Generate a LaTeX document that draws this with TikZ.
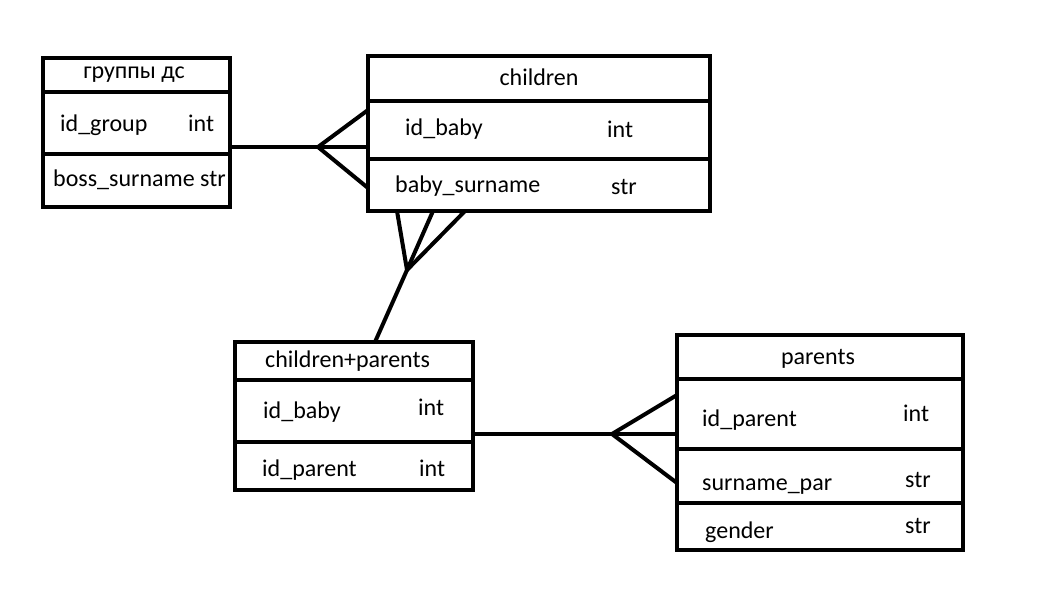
\documentclass[tikz,border=0pt]{standalone}
\usepackage{fontspec}
\setmainfont{Carlito}
\usepackage{tikz}
\usetikzlibrary{positioning,calc}

\begin{document}
\begin{tikzpicture}[
  x=1pt, y=-1pt,
  cell/.style={rectangle, draw=black, line width=4pt, inner sep=0pt},
  txt/.style={font=\fontsize{24}{28}\selectfont, inner sep=0pt, anchor=base west},
  ttl/.style={txt, anchor=base},
  conn/.style={line width=4pt, line join=miter}
]
\useasboundingbox (0,0) rectangle (1047,609);

% группы дс
\node[cell, minimum width=187pt, minimum height=34pt] (grp-head) at (136.5,75) {};
\node[cell, minimum width=187pt, minimum height=62pt] (grp-r1) at (136.5,123) {};
\node[cell, minimum width=187pt, minimum height=53pt] (grp-r2) at (136.5,180.5) {};
\node[ttl] (grp-t)  at (134,79)  {группы дс};
\node[txt] (grp-n1) at (60,132)  {id\_group};
\node[txt] (grp-y1) at (188,132) {int};
\node[txt] (grp-n2) at (53,187)  {boss\_surname str};

% children
\node[cell, minimum width=342pt, minimum height=45pt] (chl-head) at (539,78.5) {};
\node[cell, minimum width=342pt, minimum height=58pt] (chl-r1) at (539,130) {};
\node[cell, minimum width=342pt, minimum height=52pt] (chl-r2) at (539,185) {};
\node[ttl] (chl-t)  at (539,86)  {children};
\node[txt] (chl-n1) at (405,136) {id\_baby};
\node[txt] (chl-y1) at (607,138) {int};
\node[txt] (chl-n2) at (395,193) {baby\_surname};
\node[txt] (chl-y2) at (611,195) {str};

% children+parents
\node[cell, minimum width=238pt, minimum height=38pt] (cp-head) at (354,361) {};
\node[cell, minimum width=238pt, minimum height=62pt] (cp-r1) at (354,411) {};
\node[cell, minimum width=238pt, minimum height=48pt] (cp-r2) at (354,466) {};
\node[txt] (cp-t)  at (265,368) {children+parents};
\node[txt] (cp-n1) at (263,418) {id\_baby};
\node[txt] (cp-y1) at (418,416) {int};
\node[txt] (cp-n2) at (262,476) {id\_parent};
\node[txt] (cp-y2) at (419,476) {int};

% parents
\node[cell, minimum width=286pt, minimum height=44pt] (par-head) at (820,357) {};
\node[cell, minimum width=286pt, minimum height=70pt] (par-r1) at (820,414) {};
\node[cell, minimum width=286pt, minimum height=54pt] (par-r2) at (820,476) {};
\node[cell, minimum width=286pt, minimum height=47pt] (par-r3) at (820,526.5) {};
\node[ttl] (par-t)  at (818,365) {parents};
\node[txt] (par-n1) at (702,427) {id\_parent};
\node[txt] (par-y1) at (903,422) {int};
\node[txt] (par-n2) at (702,490) {surname\_par};
\node[txt] (par-y2) at (905,487) {str};
\node[txt] (par-n3) at (705,538) {gender};
\node[txt] (par-y3) at (905,533) {str};

% crow's feet
\coordinate (foot1) at (318,147);
\coordinate (foot1-up) at (368,110);
\coordinate (foot1-dn) at (368,188);
\coordinate (foot2) at (407,270);
\coordinate (foot2-l) at (397,211);
\coordinate (foot2-m) at (433,211);
\coordinate (foot2-r) at (465,211);
\coordinate (foot2-end) at (375,342);
\coordinate (foot3) at (612,434);
\coordinate (foot3-up) at (677,395);
\coordinate (foot3-dn) at (677,483);

% connectors
\draw[conn] (grp-r1.east |- foot1) -- (chl-r1.west |- foot1);
\draw[conn] (foot1-up) -- (foot1) -- (foot1-dn);
\draw[conn] (foot2-l) -- (foot2) -- (foot2-r);
\draw[conn] (foot2-m) -- (foot2) -- (foot2-end);
\draw[conn] (cp-r1.east |- foot3) -- (par-r1.west |- foot3);
\draw[conn] (foot3-up) -- (foot3) -- (foot3-dn);

\end{tikzpicture}
\end{document}
